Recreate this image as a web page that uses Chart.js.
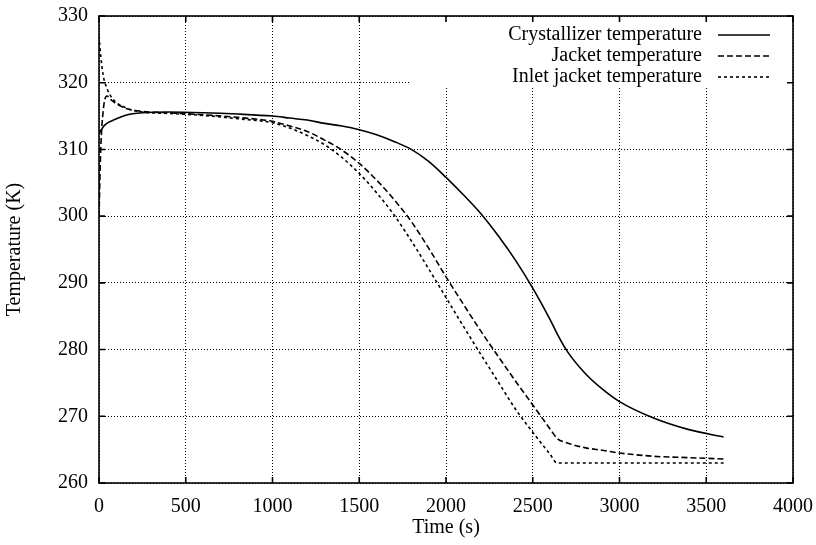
<!DOCTYPE html>
<html>
<head>
<meta charset="utf-8">
<title>Crystallizer temperatures</title>
<script src="https://cdn.jsdelivr.net/npm/chart.js@4.4.1/dist/chart.umd.min.js"></script>
<style>
    html, body { margin: 0; padding: 0; background: #fff; }
    #wrap { width: 816px; height: 545px; }
</style>
</head>
<body>
<div id="wrap"><canvas id="tempChart" width="816" height="545"></canvas></div>
<script>
// time points (s)
const times = [0, 10, 25, 45, 75, 150, 250, 400, 600, 800, 1000, 1100, 1200, 1300, 1400, 1500,
    1600, 1700, 1800, 1900, 2000, 2100, 2200, 2300, 2400, 2500, 2600, 2640, 2700, 2800, 2900,
    3000, 3200, 3400, 3600];

const crystallizerTemp = [312.3, 312.8, 313.4, 313.9, 314.3, 315.1, 315.5, 315.6, 315.5, 315.3,
    315.0, 314.7, 314.4, 313.9, 313.5, 312.95, 312.2, 311.2, 310.0, 308.2, 305.8, 303.2, 300.4,
    297.1, 293.4, 289.2, 284.5, 282.4, 279.7, 276.5, 274.1, 272.2, 269.7, 268.0, 266.9];

const jacketTemp = [300, 310, 316, 318, 317.3, 316.2, 315.7, 315.5, 315.2, 314.8, 314.2, 313.5,
    312.7, 311.4, 309.9, 307.9, 305.4, 302.5, 299.2, 295.2, 290.9, 286.8, 282.8, 279.0, 275.3,
    271.7, 268.1, 266.7, 266.0, 265.3, 264.9, 264.5, 264.0, 263.8, 263.6];

const inletJacketTemp = [327, 324, 321, 319.2, 317.7, 316.3, 315.6, 315.4, 315.1, 314.6, 314.0,
    313.2, 312.1, 310.7, 308.8, 306.4, 303.5, 300.2, 296.3, 292.1, 287.8, 283.5, 279.3, 275.2,
    271.1, 267.6, 264.3, 263.0, 263.0, 263.0, 263.0, 263.0, 263.0, 263.0, 263.0];

const seriesLabels = ['Crystallizer temperature', 'Jacket temperature', 'Inlet jacket temperature'];
const xTicks = [0, 500, 1000, 1500, 2000, 2500, 3000, 3500, 4000];
const yTicks = [260, 270, 280, 290, 300, 310, 320, 330];

const serif = '"Liberation Serif", "DejaVu Serif", serif';

const toPoints = (vals) => times.map((t, i) => ({ x: t, y: vals[i] }));

// gnuplot-like frame, inward ticks and key (text right-aligned, sample on its right)
const frameAndKey = {
    id: 'frameAndKey',
    beforeDatasetsDraw(chart) {
        const { ctx, chartArea: a } = chart;
        // key box hides the grid behind it
        ctx.save();
        ctx.fillStyle = '#fff';
        ctx.fillRect(a.right - 383, a.top + 1, 382, 70);
        ctx.restore();
    },
    afterDraw(chart) {
        const { ctx, chartArea: a, scales } = chart;
        ctx.save();
        ctx.strokeStyle = '#000';
        ctx.setLineDash([]);
        ctx.lineWidth = 1.6;
        ctx.strokeRect(a.left, a.top, a.right - a.left, a.bottom - a.top);

        ctx.beginPath();
        scales.x.ticks.forEach(t => {
            const px = scales.x.getPixelForValue(t.value);
            ctx.moveTo(px, a.bottom); ctx.lineTo(px, a.bottom - 6);
            ctx.moveTo(px, a.top); ctx.lineTo(px, a.top + 6);
        });
        scales.y.ticks.forEach(t => {
            const py = scales.y.getPixelForValue(t.value);
            ctx.moveTo(a.left, py); ctx.lineTo(a.left + 6, py);
            ctx.moveTo(a.right, py); ctx.lineTo(a.right - 6, py);
        });
        ctx.stroke();

        ctx.font = '20px ' + serif;
        ctx.textAlign = 'right';
        ctx.textBaseline = 'middle';
        ctx.fillStyle = '#000';
        chart.data.datasets.forEach((ds, i) => {
            const y = a.top + 19 + i * 21;
            ctx.fillText(ds.label, a.right - 91, y);
            ctx.setLineDash(ds.borderDash || []);
            ctx.lineWidth = ds.borderWidth;
            ctx.beginPath();
            ctx.moveTo(a.right - 75, y);
            ctx.lineTo(a.right - 23, y);
            ctx.stroke();
        });
        ctx.restore();
    }
};

const gridStyle = { color: '#000', lineWidth: 1, drawTicks: false };

new Chart(document.getElementById('tempChart'), {
    type: 'line',
    data: {
        datasets: [
            {
                label: seriesLabels[0],
                data: toPoints(crystallizerTemp),
                borderColor: '#000',
                borderWidth: 1.6,
                borderDash: [],
                pointRadius: 0,
                cubicInterpolationMode: 'monotone'
            },
            {
                label: seriesLabels[1],
                data: toPoints(jacketTemp),
                borderColor: '#000',
                borderWidth: 1.6,
                borderDash: [6, 3],
                pointRadius: 0,
                cubicInterpolationMode: 'monotone'
            },
            {
                label: seriesLabels[2],
                data: toPoints(inletJacketTemp),
                borderColor: '#000',
                borderWidth: 1.6,
                borderDash: [3, 3],
                pointRadius: 0,
                cubicInterpolationMode: 'monotone'
            }
        ]
    },
    options: {
        responsive: false,
        animation: false,
        layout: { padding: { top: 16, right: 23, left: 0, bottom: 0 } },
        plugins: {
            legend: { display: false },
            tooltip: { enabled: false }
        },
        scales: {
            x: {
                type: 'linear',
                min: xTicks[0],
                max: xTicks[xTicks.length - 1],
                afterBuildTicks: (s) => { s.ticks = xTicks.map(v => ({ value: v })); },
                afterFit: (s) => { s.height = 62; s.paddingLeft = 0; s.paddingRight = 0; },
                ticks: {
                    color: '#000', font: { family: serif, size: 20 }, padding: 12, maxRotation: 0,
                    callback: (v) => String(v)
                },
                grid: gridStyle,
                border: { display: false, dash: [1, 2] },
                title: {
                    display: true, text: 'Time (s)', color: '#000',
                    font: { family: serif, size: 20 }, padding: { top: 0, bottom: 5 }
                }
            },
            y: {
                min: yTicks[0],
                max: yTicks[yTicks.length - 1],
                afterBuildTicks: (s) => { s.ticks = yTicks.map(v => ({ value: v })); },
                afterFit: (s) => { s.width = 99; s.paddingTop = 0; s.paddingBottom = 0; },
                ticks: {
                    color: '#000', font: { family: serif, size: 20 }, padding: 11,
                    callback: (v) => String(v)
                },
                grid: gridStyle,
                border: { display: false, dash: [1, 2] },
                title: {
                    display: true, text: 'Temperature (K)', color: '#000',
                    font: { family: serif, size: 20 }, padding: { top: 3, bottom: 0 }
                }
            }
        }
    },
    plugins: [frameAndKey]
});
</script>
</body>
</html>
